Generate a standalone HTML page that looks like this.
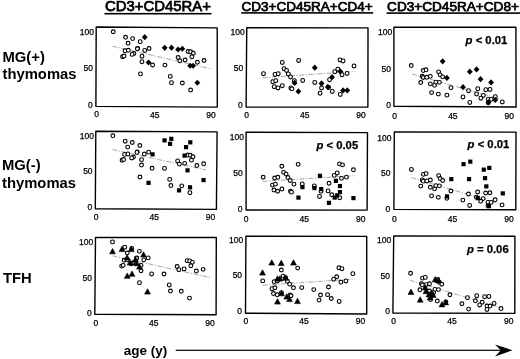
<!DOCTYPE html><html><head><meta charset="utf-8"><title>figure</title><style>
html,body{margin:0;padding:0;background:#fff}svg{display:block;filter:blur(0.35px)}
text{font-family:"Liberation Sans",Arial,Helvetica,sans-serif;fill:#000}
.t{font-size:8.5px;stroke:#000;stroke-width:0.25px}.p{stroke:#000;stroke-width:0.25px}.b{font-weight:bold}.ti{stroke:#000;stroke-width:0.75px}.fr{fill:none;stroke:#000;stroke-width:1.4;stroke-linejoin:round}
.o{fill:#fff;stroke:#000;stroke-width:1.1}.f{fill:#000}.tr{stroke:#000;stroke-width:0.6;stroke-linejoin:round}.rl{stroke:#888;stroke-width:0.75;stroke-dasharray:5 1.5 1.2 1.5;fill:none}
</style></head><body>
<svg width="520" height="359" viewBox="0 0 520 359">
<rect width="520" height="359" fill="#fff"/>
<text class="ti" x="105" y="11.3" font-size="14.9">CD3+CD45RA+</text>
<rect x="104.5" y="12.9" width="107" height="1.6"/>
<text class="ti" x="241.6" y="10.8" font-size="13.5">CD3+CD45RA+CD4+</text>
<rect x="241.2" y="12.1" width="132" height="1.6"/>
<text class="ti" x="387.1" y="10.8" font-size="13.6">CD3+CD45RA+CD8+</text>
<rect x="386.6" y="12.3" width="134" height="1.6"/>
<text class="b" x="2.5" y="61.8" font-size="14.8">MG(+)</text>
<text class="b" x="2.5" y="78.7" font-size="14.8">thymomas</text>
<text class="b" x="2" y="170" font-size="14.8">MG(-)</text>
<text class="b" x="2" y="187.5" font-size="14.8">thymomas</text>
<text class="b" x="2.9" y="283" font-size="14.8">TFH</text>
<g>
<path class="fr" d="M96.2 27.0L217.2 27.9L217.3 107.1L95.9 106.4Z"/>
<text class="t" text-anchor="end" x="94.00" y="34.60">100</text>
<text class="t" text-anchor="end" x="92.90" y="71.05">50</text>
<text class="t" text-anchor="end" x="92.80" y="107.50">0</text>
<text class="t" text-anchor="middle" x="96.60" y="117.20">0</text>
<text class="t" text-anchor="middle" x="154.75" y="117.50">45</text>
<text class="t" text-anchor="middle" x="211.10" y="117.80">90</text>
<line class="rl" x1="112.5" y1="46.25" x2="211.75" y2="69.0"/>
<circle class="o" cx="113.25" cy="31.75" r="1.9"/>
<circle class="o" cx="125.55" cy="37.30" r="1.9"/>
<circle class="o" cx="132.62" cy="38.60" r="1.9"/>
<circle class="o" cx="128.08" cy="43.32" r="1.9"/>
<circle class="o" cx="140.20" cy="41.67" r="1.9"/>
<circle class="o" cx="137.68" cy="48.40" r="1.9"/>
<circle class="o" cx="125.05" cy="50.79" r="1.9"/>
<circle class="o" cx="128.33" cy="50.32" r="1.9"/>
<circle class="o" cx="144.75" cy="50.45" r="1.9"/>
<circle class="o" cx="149.04" cy="48.49" r="1.9"/>
<circle class="o" cx="133.89" cy="53.51" r="1.9"/>
<circle class="o" cx="132.12" cy="54.40" r="1.9"/>
<circle class="o" cx="122.53" cy="56.77" r="1.9"/>
<circle class="o" cx="124.04" cy="56.03" r="1.9"/>
<circle class="o" cx="141.97" cy="56.18" r="1.9"/>
<circle class="o" cx="141.97" cy="61.68" r="1.9"/>
<circle class="o" cx="152.57" cy="65.02" r="1.9"/>
<circle class="o" cx="164.94" cy="65.12" r="1.9"/>
<circle class="o" cx="140.45" cy="73.92" r="1.9"/>
<circle class="o" cx="170.25" cy="76.41" r="1.9"/>
<circle class="o" cx="171.51" cy="82.67" r="1.9"/>
<circle class="o" cx="182.35" cy="83.00" r="1.9"/>
<circle class="o" cx="190.60" cy="90.00" r="1.9"/>
<circle class="o" cx="178.08" cy="57.48" r="1.9"/>
<circle class="o" cx="179.84" cy="60.74" r="1.9"/>
<circle class="o" cx="185.10" cy="60.00" r="1.9"/>
<circle class="o" cx="188.10" cy="51.50" r="1.9"/>
<circle class="o" cx="190.60" cy="51.75" r="1.9"/>
<circle class="o" cx="193.35" cy="53.25" r="1.9"/>
<circle class="o" cx="191.85" cy="56.75" r="1.9"/>
<circle class="o" cx="197.35" cy="62.25" r="1.9"/>
<circle class="o" cx="204.10" cy="60.50" r="1.9"/>
<circle class="o" cx="137.37" cy="48.74" r="1.9"/>
<path class="f" d="M144.75 34.10L147.65 37.20L144.75 40.30L141.84 37.20Z"/>
<path class="f" d="M148.53 59.39L151.43 62.49L148.53 65.59L145.63 62.49Z"/>
<path class="f" d="M164.69 44.77L167.59 47.87L164.69 50.97L161.79 47.87Z"/>
<path class="f" d="M171.51 44.57L174.41 47.67L171.51 50.77L168.61 47.67Z"/>
<path class="f" d="M178.07 46.38L180.97 49.48L178.07 52.58L175.17 49.48Z"/>
<path class="f" d="M182.35 45.65L185.25 48.75L182.35 51.85L179.45 48.75Z"/>
<path class="f" d="M190.10 62.65L193.00 65.75L190.10 68.85L187.20 65.75Z"/>
<path class="f" d="M193.10 62.65L196.00 65.75L193.10 68.85L190.20 65.75Z"/>
<path class="f" d="M197.35 79.65L200.25 82.75L197.35 85.85L194.45 82.75Z"/>
</g>
<g>
<path class="fr" d="M246.75 27.8L368.0 27.9L367.9 107.1L246.1 107.1Z"/>
<text class="t" text-anchor="end" x="244.70" y="35.25">100</text>
<text class="t" text-anchor="end" x="243.25" y="71.42">50</text>
<text class="t" text-anchor="end" x="242.80" y="107.60">0</text>
<text class="t" text-anchor="middle" x="246.60" y="118.40">0</text>
<text class="t" text-anchor="middle" x="304.75" y="118.40">45</text>
<text class="t" text-anchor="middle" x="361.10" y="118.40">90</text>
<line class="rl" x1="262.5" y1="77.8" x2="355" y2="71.4"/>
<circle class="o" cx="263.50" cy="73.70" r="1.9"/>
<circle class="o" cx="275.00" cy="74.45" r="1.9"/>
<circle class="o" cx="278.25" cy="73.70" r="1.9"/>
<circle class="o" cx="282.27" cy="62.45" r="1.9"/>
<circle class="o" cx="284.03" cy="68.70" r="1.9"/>
<circle class="o" cx="286.55" cy="70.45" r="1.9"/>
<circle class="o" cx="288.31" cy="73.95" r="1.9"/>
<circle class="o" cx="290.58" cy="76.95" r="1.9"/>
<circle class="o" cx="272.75" cy="81.70" r="1.9"/>
<circle class="o" cx="275.75" cy="80.70" r="1.9"/>
<circle class="o" cx="274.25" cy="86.70" r="1.9"/>
<circle class="o" cx="278.00" cy="87.95" r="1.9"/>
<circle class="o" cx="282.27" cy="85.70" r="1.9"/>
<circle class="o" cx="290.83" cy="87.95" r="1.9"/>
<circle class="o" cx="291.89" cy="88.85" r="1.9"/>
<circle class="o" cx="328.60" cy="87.55" r="1.9"/>
<circle class="o" cx="294.36" cy="80.70" r="1.9"/>
<circle class="o" cx="298.64" cy="60.45" r="1.9"/>
<circle class="o" cx="302.67" cy="80.45" r="1.9"/>
<circle class="o" cx="314.76" cy="82.45" r="1.9"/>
<circle class="o" cx="321.55" cy="87.95" r="1.9"/>
<circle class="o" cx="320.05" cy="93.20" r="1.9"/>
<circle class="o" cx="332.30" cy="91.45" r="1.9"/>
<circle class="o" cx="329.55" cy="79.70" r="1.9"/>
<circle class="o" cx="334.80" cy="71.70" r="1.9"/>
<circle class="o" cx="337.80" cy="69.20" r="1.9"/>
<circle class="o" cx="340.05" cy="59.95" r="1.9"/>
<circle class="o" cx="343.05" cy="60.95" r="1.9"/>
<circle class="o" cx="342.05" cy="74.70" r="1.9"/>
<circle class="o" cx="347.05" cy="73.45" r="1.9"/>
<circle class="o" cx="354.05" cy="65.95" r="1.9"/>
<circle class="o" cx="340.30" cy="94.45" r="1.9"/>
<path class="f" d="M294.61 79.85L297.51 82.95L294.61 86.05L291.71 82.95Z"/>
<path class="f" d="M298.39 88.35L301.29 91.45L298.39 94.55L295.49 91.45Z"/>
<path class="f" d="M314.76 64.60L317.66 67.70L314.76 70.80L311.86 67.70Z"/>
<path class="f" d="M321.55 80.35L324.45 83.45L321.55 86.55L318.65 83.45Z"/>
<path class="f" d="M327.80 83.85L330.70 86.95L327.80 90.05L324.90 86.95Z"/>
<path class="f" d="M332.05 74.10L334.95 77.20L332.05 80.30L329.15 77.20Z"/>
<path class="f" d="M340.30 68.35L343.20 71.45L340.30 74.55L337.40 71.45Z"/>
<path class="f" d="M343.05 87.35L345.95 90.45L343.05 93.55L340.15 90.45Z"/>
<path class="f" d="M347.30 87.35L350.20 90.45L347.30 93.55L344.40 90.45Z"/>
</g>
<g>
<path class="fr" d="M393.9 27.25L515.9 27.3L516.1 107.0L393.9 106.3Z"/>
<text class="t" text-anchor="end" x="392.20" y="35.40">100</text>
<text class="t" text-anchor="end" x="391.05" y="71.70">50</text>
<text class="t" text-anchor="end" x="390.90" y="108.00">0</text>
<text class="t" text-anchor="middle" x="394.70" y="118.70">0</text>
<text class="t" text-anchor="middle" x="452.88" y="118.60">45</text>
<text class="t" text-anchor="middle" x="509.25" y="118.50">90</text>
<line class="rl" x1="412" y1="74.0" x2="500" y2="99.0"/>
<circle class="o" cx="411.25" cy="65.55" r="1.9"/>
<circle class="o" cx="423.27" cy="70.56" r="1.9"/>
<circle class="o" cx="426.04" cy="69.82" r="1.9"/>
<circle class="o" cx="422.21" cy="76.31" r="1.9"/>
<circle class="o" cx="423.22" cy="77.51" r="1.9"/>
<circle class="o" cx="426.79" cy="77.32" r="1.9"/>
<circle class="o" cx="430.31" cy="76.33" r="1.9"/>
<circle class="o" cx="420.75" cy="82.55" r="1.9"/>
<circle class="o" cx="430.31" cy="83.83" r="1.9"/>
<circle class="o" cx="434.59" cy="85.34" r="1.9"/>
<circle class="o" cx="435.84" cy="82.10" r="1.9"/>
<circle class="o" cx="439.37" cy="82.36" r="1.9"/>
<circle class="o" cx="438.61" cy="71.86" r="1.9"/>
<circle class="o" cx="440.12" cy="74.86" r="1.9"/>
<circle class="o" cx="442.63" cy="76.87" r="1.9"/>
<circle class="o" cx="431.57" cy="92.58" r="1.9"/>
<circle class="o" cx="438.36" cy="94.10" r="1.9"/>
<circle class="o" cx="446.91" cy="95.13" r="1.9"/>
<circle class="o" cx="450.93" cy="87.64" r="1.9"/>
<circle class="o" cx="463.01" cy="96.93" r="1.9"/>
<circle class="o" cx="468.54" cy="90.69" r="1.9"/>
<circle class="o" cx="469.80" cy="102.45" r="1.9"/>
<circle class="o" cx="476.55" cy="93.95" r="1.9"/>
<circle class="o" cx="477.80" cy="88.70" r="1.9"/>
<circle class="o" cx="483.30" cy="95.45" r="1.9"/>
<circle class="o" cx="480.80" cy="98.20" r="1.9"/>
<circle class="o" cx="485.80" cy="89.70" r="1.9"/>
<circle class="o" cx="490.05" cy="89.45" r="1.9"/>
<circle class="o" cx="488.20" cy="99.35" r="1.9"/>
<circle class="o" cx="491.30" cy="99.35" r="1.9"/>
<circle class="o" cx="488.20" cy="102.85" r="1.9"/>
<circle class="o" cx="495.30" cy="96.70" r="1.9"/>
<circle class="o" cx="502.30" cy="101.95" r="1.9"/>
<path class="f" d="M442.63 58.27L445.53 61.37L442.63 64.47L439.74 61.37Z"/>
<path class="f" d="M446.91 74.78L449.81 77.88L446.91 80.98L444.01 77.88Z"/>
<path class="f" d="M463.01 84.08L465.91 87.18L463.01 90.28L460.11 87.18Z"/>
<path class="f" d="M469.80 68.60L472.70 71.70L469.80 74.80L466.90 71.70Z"/>
<path class="f" d="M476.55 66.35L479.45 69.45L476.55 72.55L473.65 69.45Z"/>
<path class="f" d="M480.55 76.10L483.45 79.20L480.55 82.30L477.65 79.20Z"/>
<path class="f" d="M491.05 79.35L493.95 82.45L491.05 85.55L488.15 82.45Z"/>
<path class="f" d="M488.55 99.10L491.45 102.20L488.55 105.30L485.65 102.20Z"/>
<path class="f" d="M495.30 96.85L498.20 99.95L495.30 103.05L492.40 99.95Z"/>
<text class="b p" font-size="11.3" x="465.6" y="44.4"><tspan font-style="italic">p</tspan> &lt; 0.01</text>
</g>
<g>
<path class="fr" d="M95.8 131.2L217.1 131.9L216.4 209.4L95.3 208.8Z"/>
<text class="t" text-anchor="end" x="94.05" y="138.75">100</text>
<text class="t" text-anchor="end" x="92.62" y="174.38">50</text>
<text class="t" text-anchor="end" x="92.20" y="210.00">0</text>
<text class="t" text-anchor="middle" x="96.20" y="219.60">0</text>
<text class="t" text-anchor="middle" x="154.20" y="219.93">45</text>
<text class="t" text-anchor="middle" x="210.40" y="220.25">90</text>
<line class="rl" x1="112.5" y1="149.5" x2="206.25" y2="170"/>
<circle class="o" cx="112.88" cy="135.82" r="1.9"/>
<circle class="o" cx="125.18" cy="141.22" r="1.9"/>
<circle class="o" cx="132.26" cy="142.49" r="1.9"/>
<circle class="o" cx="127.69" cy="147.10" r="1.9"/>
<circle class="o" cx="139.83" cy="145.48" r="1.9"/>
<circle class="o" cx="137.27" cy="152.06" r="1.9"/>
<circle class="o" cx="124.62" cy="154.42" r="1.9"/>
<circle class="o" cx="127.91" cy="153.95" r="1.9"/>
<circle class="o" cx="144.34" cy="154.06" r="1.9"/>
<circle class="o" cx="148.65" cy="152.14" r="1.9"/>
<circle class="o" cx="133.45" cy="157.07" r="1.9"/>
<circle class="o" cx="131.68" cy="157.94" r="1.9"/>
<circle class="o" cx="122.07" cy="160.26" r="1.9"/>
<circle class="o" cx="123.59" cy="159.54" r="1.9"/>
<circle class="o" cx="141.53" cy="159.66" r="1.9"/>
<circle class="o" cx="141.50" cy="165.04" r="1.9"/>
<circle class="o" cx="152.08" cy="168.29" r="1.9"/>
<circle class="o" cx="164.46" cy="168.38" r="1.9"/>
<circle class="o" cx="139.92" cy="177.01" r="1.9"/>
<circle class="o" cx="169.68" cy="179.42" r="1.9"/>
<circle class="o" cx="170.90" cy="185.54" r="1.9"/>
<circle class="o" cx="181.73" cy="185.85" r="1.9"/>
<circle class="o" cx="189.91" cy="192.69" r="1.9"/>
<circle class="o" cx="177.65" cy="160.89" r="1.9"/>
<circle class="o" cx="179.39" cy="164.08" r="1.9"/>
<circle class="o" cx="184.66" cy="163.35" r="1.9"/>
<circle class="o" cx="187.73" cy="155.03" r="1.9"/>
<circle class="o" cx="190.23" cy="155.27" r="1.9"/>
<circle class="o" cx="192.97" cy="156.74" r="1.9"/>
<circle class="o" cx="191.44" cy="160.16" r="1.9"/>
<circle class="o" cx="196.90" cy="165.54" r="1.9"/>
<circle class="o" cx="203.66" cy="163.82" r="1.9"/>
<circle class="o" cx="136.96" cy="152.40" r="1.9"/>
<rect class="f" x="162.45" y="138.25" width="4.2" height="4.2"/>
<rect class="f" x="169.20" y="136.75" width="4.2" height="4.2"/>
<rect class="f" x="167.95" y="141.75" width="4.2" height="4.2"/>
<rect class="f" x="150.45" y="152.25" width="4.2" height="4.2"/>
<rect class="f" x="146.45" y="180.75" width="4.2" height="4.2"/>
<rect class="f" x="183.95" y="145.00" width="4.2" height="4.2"/>
<rect class="f" x="188.20" y="140.25" width="4.2" height="4.2"/>
<rect class="f" x="182.45" y="153.50" width="4.2" height="4.2"/>
<rect class="f" x="185.45" y="168.25" width="4.2" height="4.2"/>
<rect class="f" x="176.95" y="188.25" width="4.2" height="4.2"/>
<rect class="f" x="187.95" y="185.25" width="4.2" height="4.2"/>
<rect class="f" x="201.45" y="178.00" width="4.2" height="4.2"/>
</g>
<g>
<path class="fr" d="M246.1 132.2L367.5 132.6L367.1 210.1L246.1 210.0Z"/>
<text class="t" text-anchor="end" x="244.05" y="140.10">100</text>
<text class="t" text-anchor="end" x="242.73" y="175.85">50</text>
<text class="t" text-anchor="end" x="242.40" y="211.60">0</text>
<text class="t" text-anchor="middle" x="246.10" y="221.50">0</text>
<text class="t" text-anchor="middle" x="304.35" y="221.50">45</text>
<text class="t" text-anchor="middle" x="360.80" y="221.50">90</text>
<line class="rl" x1="262.5" y1="181.4" x2="355" y2="175.7"/>
<circle class="o" cx="263.17" cy="177.26" r="1.9"/>
<circle class="o" cx="274.64" cy="178.01" r="1.9"/>
<circle class="o" cx="277.87" cy="177.28" r="1.9"/>
<circle class="o" cx="281.82" cy="166.26" r="1.9"/>
<circle class="o" cx="283.61" cy="172.39" r="1.9"/>
<circle class="o" cx="286.13" cy="174.11" r="1.9"/>
<circle class="o" cx="287.90" cy="177.54" r="1.9"/>
<circle class="o" cx="290.17" cy="180.48" r="1.9"/>
<circle class="o" cx="272.43" cy="185.12" r="1.9"/>
<circle class="o" cx="275.42" cy="184.14" r="1.9"/>
<circle class="o" cx="273.95" cy="190.02" r="1.9"/>
<circle class="o" cx="277.69" cy="191.25" r="1.9"/>
<circle class="o" cx="281.93" cy="189.05" r="1.9"/>
<circle class="o" cx="290.46" cy="191.27" r="1.9"/>
<circle class="o" cx="291.52" cy="192.15" r="1.9"/>
<circle class="o" cx="328.06" cy="190.92" r="1.9"/>
<circle class="o" cx="293.95" cy="184.17" r="1.9"/>
<circle class="o" cx="298.15" cy="164.33" r="1.9"/>
<circle class="o" cx="302.23" cy="183.93" r="1.9"/>
<circle class="o" cx="314.27" cy="185.91" r="1.9"/>
<circle class="o" cx="321.04" cy="191.30" r="1.9"/>
<circle class="o" cx="319.55" cy="196.45" r="1.9"/>
<circle class="o" cx="331.74" cy="194.74" r="1.9"/>
<circle class="o" cx="329.00" cy="183.23" r="1.9"/>
<circle class="o" cx="334.24" cy="175.41" r="1.9"/>
<circle class="o" cx="337.23" cy="172.96" r="1.9"/>
<circle class="o" cx="339.48" cy="163.91" r="1.9"/>
<circle class="o" cx="342.48" cy="164.90" r="1.9"/>
<circle class="o" cx="341.46" cy="178.36" r="1.9"/>
<circle class="o" cx="346.45" cy="177.14" r="1.9"/>
<circle class="o" cx="353.44" cy="169.81" r="1.9"/>
<circle class="o" cx="339.70" cy="197.69" r="1.9"/>
<rect class="f" x="296.35" y="195.50" width="4.2" height="4.2"/>
<rect class="f" x="300.35" y="185.00" width="4.2" height="4.2"/>
<rect class="f" x="312.35" y="186.00" width="4.2" height="4.2"/>
<rect class="f" x="317.85" y="173.75" width="4.2" height="4.2"/>
<rect class="f" x="319.10" y="187.00" width="4.2" height="4.2"/>
<rect class="f" x="326.85" y="200.75" width="4.2" height="4.2"/>
<rect class="f" x="333.85" y="178.75" width="4.2" height="4.2"/>
<rect class="f" x="332.60" y="195.50" width="4.2" height="4.2"/>
<rect class="f" x="335.10" y="193.25" width="4.2" height="4.2"/>
<rect class="f" x="337.85" y="184.00" width="4.2" height="4.2"/>
<rect class="f" x="337.85" y="190.00" width="4.2" height="4.2"/>
<rect class="f" x="351.35" y="196.00" width="4.2" height="4.2"/>
<text class="b p" font-size="11.3" x="316.4" y="148.5"><tspan font-style="italic">p</tspan> &lt; 0.05</text>
</g>
<g>
<path class="fr" d="M394.3 131.9L516.0 132.1L515.8 209.8L393.9 209.4Z"/>
<text class="t" text-anchor="end" x="391.55" y="140.75">100</text>
<text class="t" text-anchor="end" x="390.43" y="176.43">50</text>
<text class="t" text-anchor="end" x="390.30" y="212.10">0</text>
<text class="t" text-anchor="middle" x="394.25" y="221.90">0</text>
<text class="t" text-anchor="middle" x="452.57" y="222.00">45</text>
<text class="t" text-anchor="middle" x="509.10" y="222.10">90</text>
<line class="rl" x1="411.25" y1="177.5" x2="500" y2="204"/>
<circle class="o" cx="411.41" cy="169.44" r="1.9"/>
<circle class="o" cx="423.38" cy="174.34" r="1.9"/>
<circle class="o" cx="426.14" cy="173.61" r="1.9"/>
<circle class="o" cx="422.30" cy="179.97" r="1.9"/>
<circle class="o" cx="423.29" cy="181.14" r="1.9"/>
<circle class="o" cx="426.86" cy="180.95" r="1.9"/>
<circle class="o" cx="430.37" cy="179.98" r="1.9"/>
<circle class="o" cx="420.81" cy="186.08" r="1.9"/>
<circle class="o" cx="430.34" cy="187.32" r="1.9"/>
<circle class="o" cx="434.59" cy="188.80" r="1.9"/>
<circle class="o" cx="435.86" cy="185.62" r="1.9"/>
<circle class="o" cx="439.38" cy="185.87" r="1.9"/>
<circle class="o" cx="438.68" cy="175.60" r="1.9"/>
<circle class="o" cx="440.17" cy="178.53" r="1.9"/>
<circle class="o" cx="442.67" cy="180.50" r="1.9"/>
<circle class="o" cx="431.55" cy="195.89" r="1.9"/>
<circle class="o" cx="438.31" cy="197.36" r="1.9"/>
<circle class="o" cx="446.84" cy="198.35" r="1.9"/>
<circle class="o" cx="450.89" cy="191.02" r="1.9"/>
<circle class="o" cx="462.89" cy="200.08" r="1.9"/>
<circle class="o" cx="468.44" cy="193.98" r="1.9"/>
<circle class="o" cx="469.63" cy="205.46" r="1.9"/>
<circle class="o" cx="476.41" cy="197.15" r="1.9"/>
<circle class="o" cx="477.68" cy="192.02" r="1.9"/>
<circle class="o" cx="483.14" cy="198.60" r="1.9"/>
<circle class="o" cx="480.63" cy="201.29" r="1.9"/>
<circle class="o" cx="485.66" cy="192.98" r="1.9"/>
<circle class="o" cx="489.90" cy="192.73" r="1.9"/>
<circle class="o" cx="488.01" cy="202.40" r="1.9"/>
<circle class="o" cx="491.10" cy="202.39" r="1.9"/>
<circle class="o" cx="487.99" cy="205.81" r="1.9"/>
<circle class="o" cx="495.10" cy="199.80" r="1.9"/>
<circle class="o" cx="502.06" cy="204.91" r="1.9"/>
<rect class="f" x="461.45" y="162.05" width="4.2" height="4.2"/>
<rect class="f" x="468.20" y="159.55" width="4.2" height="4.2"/>
<rect class="f" x="449.20" y="177.05" width="4.2" height="4.2"/>
<rect class="f" x="444.95" y="194.30" width="4.2" height="4.2"/>
<rect class="f" x="466.95" y="177.05" width="4.2" height="4.2"/>
<rect class="f" x="481.70" y="167.55" width="4.2" height="4.2"/>
<rect class="f" x="487.20" y="165.80" width="4.2" height="4.2"/>
<rect class="f" x="482.95" y="176.05" width="4.2" height="4.2"/>
<rect class="f" x="484.20" y="184.30" width="4.2" height="4.2"/>
<rect class="f" x="475.70" y="196.05" width="4.2" height="4.2"/>
<rect class="f" x="486.80" y="204.10" width="4.2" height="4.2"/>
<rect class="f" x="500.70" y="191.30" width="4.2" height="4.2"/>
<text class="b p" font-size="11.3" x="467.6" y="148.4"><tspan font-style="italic">p</tspan> &lt; 0.01</text>
</g>
<g>
<path class="fr" d="M95.5 237.4L216.3 237.5L216.1 314.7L94.8 314.2Z"/>
<text class="t" text-anchor="end" x="93.30" y="245.40">100</text>
<text class="t" text-anchor="end" x="92.05" y="280.70">50</text>
<text class="t" text-anchor="end" x="91.80" y="316.00">0</text>
<text class="t" text-anchor="middle" x="95.75" y="325.60">0</text>
<text class="t" text-anchor="middle" x="153.83" y="325.80">45</text>
<text class="t" text-anchor="middle" x="210.10" y="326.00">90</text>
<line class="rl" x1="112.5" y1="255.75" x2="211.25" y2="277.75"/>
<circle class="o" cx="112.50" cy="241.89" r="1.9"/>
<circle class="o" cx="124.76" cy="247.19" r="1.9"/>
<circle class="o" cx="131.81" cy="248.42" r="1.9"/>
<circle class="o" cx="127.25" cy="253.01" r="1.9"/>
<circle class="o" cx="139.36" cy="251.35" r="1.9"/>
<circle class="o" cx="136.81" cy="257.88" r="1.9"/>
<circle class="o" cx="124.19" cy="260.27" r="1.9"/>
<circle class="o" cx="127.47" cy="259.80" r="1.9"/>
<circle class="o" cx="143.86" cy="259.85" r="1.9"/>
<circle class="o" cx="148.16" cy="257.92" r="1.9"/>
<circle class="o" cx="133.00" cy="262.87" r="1.9"/>
<circle class="o" cx="131.23" cy="263.73" r="1.9"/>
<circle class="o" cx="121.64" cy="266.08" r="1.9"/>
<circle class="o" cx="123.16" cy="265.35" r="1.9"/>
<circle class="o" cx="141.06" cy="265.42" r="1.9"/>
<circle class="o" cx="141.03" cy="270.75" r="1.9"/>
<circle class="o" cx="151.61" cy="273.95" r="1.9"/>
<circle class="o" cx="163.97" cy="273.99" r="1.9"/>
<circle class="o" cx="139.47" cy="282.63" r="1.9"/>
<circle class="o" cx="169.22" cy="284.95" r="1.9"/>
<circle class="o" cx="170.45" cy="291.03" r="1.9"/>
<circle class="o" cx="181.28" cy="291.31" r="1.9"/>
<circle class="o" cx="189.49" cy="298.10" r="1.9"/>
<circle class="o" cx="177.11" cy="266.51" r="1.9"/>
<circle class="o" cx="178.87" cy="269.68" r="1.9"/>
<circle class="o" cx="184.12" cy="268.93" r="1.9"/>
<circle class="o" cx="187.15" cy="260.65" r="1.9"/>
<circle class="o" cx="189.65" cy="260.88" r="1.9"/>
<circle class="o" cx="192.39" cy="262.33" r="1.9"/>
<circle class="o" cx="190.87" cy="265.74" r="1.9"/>
<circle class="o" cx="196.35" cy="271.07" r="1.9"/>
<circle class="o" cx="203.09" cy="269.33" r="1.9"/>
<circle class="o" cx="136.50" cy="258.22" r="1.9"/>
<path class="f tr" d="M112.50 248.45L115.40 253.85L109.60 253.85Z"/>
<path class="f tr" d="M122.00 246.20L124.90 251.60L119.10 251.60Z"/>
<path class="f tr" d="M131.25 246.20L134.15 251.60L128.35 251.60Z"/>
<path class="f tr" d="M127.00 254.70L129.90 260.10L124.10 260.10Z"/>
<path class="f tr" d="M130.00 259.70L132.90 265.10L127.10 265.10Z"/>
<path class="f tr" d="M135.50 256.70L138.40 262.10L132.60 262.10Z"/>
<path class="f tr" d="M136.75 260.45L139.65 265.85L133.85 265.85Z"/>
<path class="f tr" d="M139.50 263.70L142.40 269.10L136.60 269.10Z"/>
<path class="f tr" d="M143.50 251.70L146.40 257.10L140.60 257.10Z"/>
<path class="f tr" d="M127.25 272.95L130.15 278.35L124.35 278.35Z"/>
<path class="f tr" d="M132.00 270.95L134.90 276.35L129.10 276.35Z"/>
<path class="f tr" d="M147.50 288.70L150.40 294.10L144.60 294.10Z"/>
</g>
<g>
<path class="fr" d="M245.9 236.3L366.7 236.4L366.7 314.0L245.5 313.2Z"/>
<text class="t" text-anchor="end" x="243.30" y="243.10">100</text>
<text class="t" text-anchor="end" x="242.10" y="278.43">50</text>
<text class="t" text-anchor="end" x="241.90" y="313.75">0</text>
<text class="t" text-anchor="middle" x="245.75" y="323.50">0</text>
<text class="t" text-anchor="middle" x="303.97" y="323.62">45</text>
<text class="t" text-anchor="middle" x="360.40" y="323.75">90</text>
<line class="rl" x1="262.5" y1="285.25" x2="355" y2="279"/>
<circle class="o" cx="262.72" cy="280.88" r="1.9"/>
<circle class="o" cx="274.17" cy="281.65" r="1.9"/>
<circle class="o" cx="277.40" cy="280.93" r="1.9"/>
<circle class="o" cx="281.37" cy="270.00" r="1.9"/>
<circle class="o" cx="283.15" cy="276.09" r="1.9"/>
<circle class="o" cx="285.66" cy="277.80" r="1.9"/>
<circle class="o" cx="287.42" cy="281.21" r="1.9"/>
<circle class="o" cx="289.69" cy="284.14" r="1.9"/>
<circle class="o" cx="271.95" cy="288.69" r="1.9"/>
<circle class="o" cx="274.93" cy="287.73" r="1.9"/>
<circle class="o" cx="273.46" cy="293.55" r="1.9"/>
<circle class="o" cx="277.19" cy="294.79" r="1.9"/>
<circle class="o" cx="281.43" cy="292.62" r="1.9"/>
<circle class="o" cx="289.96" cy="294.85" r="1.9"/>
<circle class="o" cx="291.02" cy="295.73" r="1.9"/>
<circle class="o" cx="327.56" cy="294.65" r="1.9"/>
<circle class="o" cx="293.46" cy="287.81" r="1.9"/>
<circle class="o" cx="297.67" cy="268.10" r="1.9"/>
<circle class="o" cx="301.73" cy="287.60" r="1.9"/>
<circle class="o" cx="313.77" cy="289.61" r="1.9"/>
<circle class="o" cx="320.54" cy="295.01" r="1.9"/>
<circle class="o" cx="319.06" cy="300.12" r="1.9"/>
<circle class="o" cx="331.25" cy="298.48" r="1.9"/>
<circle class="o" cx="328.49" cy="286.99" r="1.9"/>
<circle class="o" cx="333.70" cy="279.19" r="1.9"/>
<circle class="o" cx="336.68" cy="276.76" r="1.9"/>
<circle class="o" cx="338.91" cy="267.73" r="1.9"/>
<circle class="o" cx="341.90" cy="268.71" r="1.9"/>
<circle class="o" cx="340.92" cy="282.15" r="1.9"/>
<circle class="o" cx="345.90" cy="280.95" r="1.9"/>
<circle class="o" cx="352.86" cy="273.64" r="1.9"/>
<circle class="o" cx="339.21" cy="301.45" r="1.9"/>
<path class="f tr" d="M262.50 269.70L265.40 275.10L259.60 275.10Z"/>
<path class="f tr" d="M271.75 259.70L274.65 265.10L268.85 265.10Z"/>
<path class="f tr" d="M281.25 260.20L284.15 265.60L278.35 265.60Z"/>
<path class="f tr" d="M293.50 259.70L296.40 265.10L290.60 265.10Z"/>
<path class="f tr" d="M277.50 275.70L280.40 281.10L274.60 281.10Z"/>
<path class="f tr" d="M280.00 275.70L282.90 281.10L277.10 281.10Z"/>
<path class="f tr" d="M285.50 274.95L288.40 280.35L282.60 280.35Z"/>
<path class="f tr" d="M281.50 290.45L284.40 295.85L278.60 295.85Z"/>
<path class="f tr" d="M286.75 293.70L289.65 299.10L283.85 299.10Z"/>
<path class="f tr" d="M289.50 296.20L292.40 301.60L286.60 301.60Z"/>
<path class="f tr" d="M277.50 298.70L280.40 304.10L274.60 304.10Z"/>
<path class="f tr" d="M297.50 298.20L300.40 303.60L294.60 303.60Z"/>
</g>
<g>
<path class="fr" d="M393.7 235.9L514.9 236.2L514.8 313.4L392.9 313.0Z"/>
<text class="t" text-anchor="end" x="391.20" y="243.10">100</text>
<text class="t" text-anchor="end" x="390.05" y="278.75">50</text>
<text class="t" text-anchor="end" x="389.90" y="314.40">0</text>
<text class="t" text-anchor="middle" x="393.60" y="323.75">0</text>
<text class="t" text-anchor="middle" x="452.05" y="323.88">45</text>
<text class="t" text-anchor="middle" x="508.70" y="324.00">90</text>
<line class="rl" x1="410" y1="280.25" x2="500" y2="307.75"/>
<circle class="o" cx="410.58" cy="273.25" r="1.9"/>
<circle class="o" cx="422.51" cy="278.13" r="1.9"/>
<circle class="o" cx="425.27" cy="277.41" r="1.9"/>
<circle class="o" cx="421.40" cy="283.73" r="1.9"/>
<circle class="o" cx="422.40" cy="284.90" r="1.9"/>
<circle class="o" cx="425.95" cy="284.71" r="1.9"/>
<circle class="o" cx="429.47" cy="283.75" r="1.9"/>
<circle class="o" cx="419.90" cy="289.81" r="1.9"/>
<circle class="o" cx="429.41" cy="291.05" r="1.9"/>
<circle class="o" cx="433.66" cy="292.51" r="1.9"/>
<circle class="o" cx="434.94" cy="289.35" r="1.9"/>
<circle class="o" cx="438.44" cy="289.60" r="1.9"/>
<circle class="o" cx="437.77" cy="279.39" r="1.9"/>
<circle class="o" cx="439.25" cy="282.31" r="1.9"/>
<circle class="o" cx="441.74" cy="284.26" r="1.9"/>
<circle class="o" cx="430.59" cy="299.56" r="1.9"/>
<circle class="o" cx="437.35" cy="301.03" r="1.9"/>
<circle class="o" cx="445.86" cy="302.02" r="1.9"/>
<circle class="o" cx="449.93" cy="294.73" r="1.9"/>
<circle class="o" cx="461.90" cy="303.74" r="1.9"/>
<circle class="o" cx="467.46" cy="297.67" r="1.9"/>
<circle class="o" cx="468.64" cy="309.09" r="1.9"/>
<circle class="o" cx="475.42" cy="300.82" r="1.9"/>
<circle class="o" cx="476.70" cy="295.72" r="1.9"/>
<circle class="o" cx="482.14" cy="302.27" r="1.9"/>
<circle class="o" cx="479.63" cy="304.94" r="1.9"/>
<circle class="o" cx="484.67" cy="296.68" r="1.9"/>
<circle class="o" cx="488.90" cy="296.44" r="1.9"/>
<circle class="o" cx="487.01" cy="306.04" r="1.9"/>
<circle class="o" cx="490.10" cy="306.04" r="1.9"/>
<circle class="o" cx="486.99" cy="309.44" r="1.9"/>
<circle class="o" cx="494.10" cy="303.46" r="1.9"/>
<circle class="o" cx="501.06" cy="308.54" r="1.9"/>
<path class="f tr" d="M410.95 289.00L413.85 294.40L408.05 294.40Z"/>
<path class="f tr" d="M420.20 296.75L423.10 302.15L417.30 302.15Z"/>
<path class="f tr" d="M425.20 284.50L428.10 289.90L422.30 289.90Z"/>
<path class="f tr" d="M425.95 288.25L428.85 293.65L423.05 293.65Z"/>
<path class="f tr" d="M428.95 291.50L431.85 296.90L426.05 296.90Z"/>
<path class="f tr" d="M430.20 294.50L433.10 299.90L427.30 299.90Z"/>
<path class="f tr" d="M431.45 290.00L434.35 295.40L428.55 295.40Z"/>
<path class="f tr" d="M433.20 292.00L436.10 297.40L430.30 297.40Z"/>
<path class="f tr" d="M435.20 276.50L438.10 281.90L432.30 281.90Z"/>
<path class="f tr" d="M438.20 277.50L441.10 282.90L435.30 282.90Z"/>
<path class="f tr" d="M441.95 301.50L444.85 306.90L439.05 306.90Z"/>
<path class="f tr" d="M445.70 299.50L448.60 304.90L442.80 304.90Z"/>
<text class="b p" font-size="11.3" x="466.9" y="252.5"><tspan font-style="italic">p</tspan> = 0.06</text>
</g>
<text class="b" x="123.7" y="354.5" font-size="13.5">age (y)</text>
<rect x="175.7" y="349.7" width="326" height="1.2"/>
<path class="f" d="M512.6 350.3L495 344.6L500.8 350.3L495 356.5Z"/>
</svg></body></html>
